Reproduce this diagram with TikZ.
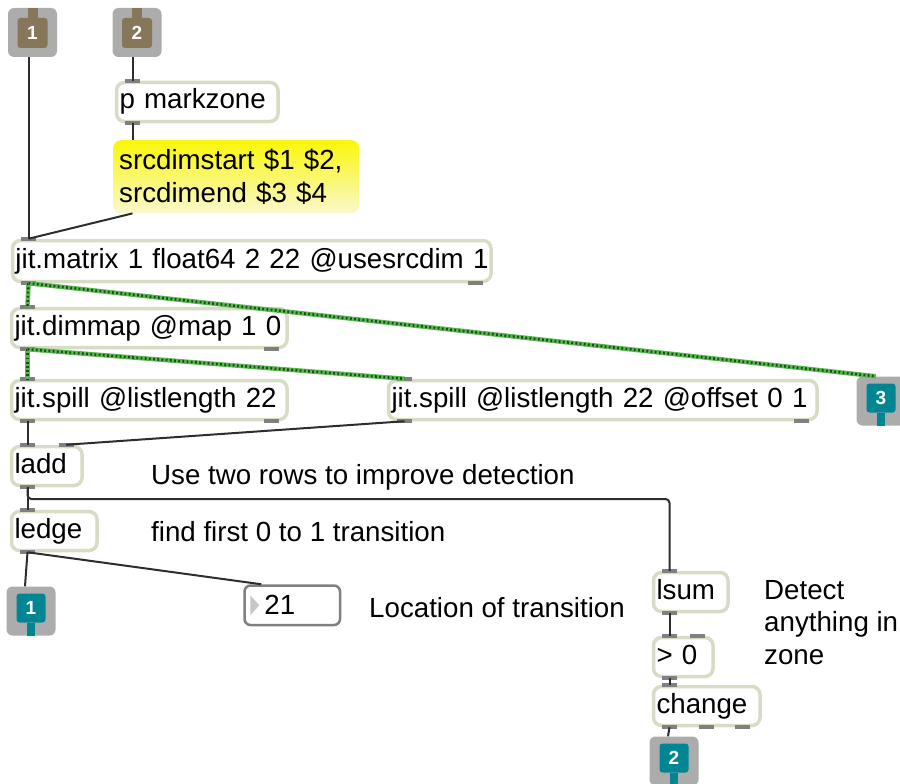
\documentclass[tikz,border=0pt]{standalone}
\usepackage{fontspec}
\setmainfont{Liberation Sans}
\usepackage{xcolor}

\definecolor{sage}{RGB}{214,221,196}
\definecolor{tabgray}{RGB}{128,128,128}
\definecolor{cordgray}{RGB}{45,45,45}
\definecolor{iogray}{RGB}{172,172,172}
\definecolor{inbrown}{RGB}{134,118,90}
\definecolor{outteal}{RGB}{0,134,146}
\definecolor{mtxdark}{RGB}{30,75,30}
\definecolor{mtxlight}{RGB}{90,185,80}
\definecolor{msgyellow}{RGB}{250,246,10}
\definecolor{msgpale}{RGB}{250,248,205}

\newcommand\patchfont{\fontsize{27.7}{32.5}\selectfont}
\newcommand\portfont{\fontsize{19}{19}\selectfont\bfseries}

\begin{document}
\begin{tikzpicture}[x=1pt,y=1pt,
  obj/.style={draw=sage, line width=3.5pt, rounded corners=8pt, fill=white,
    anchor=north west, inner xsep=3pt, inner ysep=0pt, minimum height=39pt,
    text height=20pt, text depth=6pt, font=\patchfont, align=left},
  msgbox/.style={rounded corners=8pt, top color=msgyellow, bottom color=msgpale,
    anchor=north west, inner xsep=6pt, minimum height=73pt, text width=234pt,
    font=\patchfont, align=left},
  numbox/.style={draw=tabgray, line width=2.5pt, rounded corners=6pt, fill=white,
    anchor=north west, minimum width=95.5pt, minimum height=39.5pt, inner sep=0pt},
  iobox/.style={fill=iogray, rounded corners=6pt, minimum size=49pt, inner sep=0pt},
  incore/.style={fill=inbrown, rounded corners=3pt, minimum size=30pt, inner sep=0pt,
    text=white, font=\portfont},
  outcore/.style={fill=outteal, rounded corners=3pt, minimum size=29pt, inner sep=0pt,
    text=white, font=\portfont},
  comment/.style={anchor=west, inner sep=0pt, font=\patchfont, align=left},
  tab/.style={fill=tabgray},
  cord/.style={draw=cordgray, line width=2pt},
  matcord/.style={draw=mtxlight, line width=4.5pt,
    postaction={draw=mtxdark, line width=2.6pt, dash pattern=on 1.8pt off 2.4pt}}]
\useasboundingbox (0,0) rectangle (900,-784);
\clip (0,0) rectangle (900,-784);

% inlets
\node[iobox] (in1) at (32.5,-32.5) {};
\node[incore] (in1core) at ([yshift=-0.5pt]in1) {1};
\fill[inbrown] ([xshift=-5pt]in1.north) rectangle ([xshift=5pt]in1core.north);
\node[iobox] (in2) at (137,-32.5) {};
\node[incore] (in2core) at ([yshift=-0.5pt]in2) {2};
\fill[inbrown] ([xshift=-5pt]in2.north) rectangle ([xshift=5pt]in2core.north);

% outlets
\node[iobox] (out1) at (31,-611) {};
\node[outcore] (out1core) at ([yshift=3pt]out1) {1};
\fill[outteal] ([xshift=-4pt]out1core.south) rectangle ([xshift=4pt]out1.south);
\node[iobox] (out2) at (674,-761) {};
\node[outcore] (out2core) at ([yshift=3pt]out2) {2};
\fill[outteal] ([xshift=-4pt]out2core.south) rectangle ([xshift=4pt]out2.south);
\node[iobox] (out3) at (881,-401) {};
\node[outcore] (out3core) at ([yshift=3pt]out3) {3};
\fill[outteal] ([xshift=-4pt]out3core.south) rectangle ([xshift=4pt]out3.south);

% objects
\node[obj, text width=155.5pt] (mark) at (114.75,-80.75) {p markzone};
\node[msgbox] (msg) at (113,-140) {srcdimstart \$1 \$2,\\srcdimend \$3 \$4};
\node[obj, text width=472.5pt, minimum height=41pt] (mtx) at (10.75,-238.75)
  {\mbox{jit.matrix 1 float64 2 22 @usesrcdim 1}};
\node[obj, text width=269.5pt] (dimmap) at (9.75,-306.75) {jit.dimmap @map 1 0};
\node[obj, text width=269.5pt] (spillA) at (9.75,-378.75) {jit.spill @listlength 22};
\node[obj, text width=422.5pt] (spillB) at (386.75,-378.75)
  {\mbox{jit.spill @listlength 22 @offset 0 1}};
\node[obj, text width=64.5pt] (ladd) at (9.75,-444.75) {ladd};
\node[obj, text width=79.5pt] (ledge) at (9.75,-509.75) {ledge};
\node[obj, text width=68.5pt] (lsum) at (651.75,-570.75) {lsum};
\node[obj, text width=53.5pt] (gtz) at (651.75,-635.75) {> 0};
\node[obj, text width=100.5pt] (change) at (651.75,-684.75) {change};

% number box
\node[numbox] (num) at (243.25,-584.25) {};
\fill[gray!45] ([xshift=7pt]num.west) ++(0,10) -- ++(9,-10) -- ++(-9,-10) -- cycle;
\node[comment] (numval) at ([xshift=21pt]num.west) {21};

% ports
\foreach \n in {mark,mtx,dimmap,spillA,spillB,ladd,ledge,lsum,gtz,change} {
  \coordinate (\n-in) at ([xshift=17.75pt]\n.north west);
  \coordinate (\n-out) at ([xshift=17.75pt]\n.south west);
  \fill[tab] ([xshift=-7.5pt,yshift=-2pt]\n-in) rectangle ++(15,4);
  \fill[tab] ([xshift=-7.5pt,yshift=-2pt]\n-out) rectangle ++(15,4);
}
\foreach \n in {mtx,dimmap,spillA,spillB} {
  \coordinate (\n-outR) at ([xshift=-17.75pt]\n.south east);
  \fill[tab] ([xshift=-7.5pt,yshift=-2pt]\n-outR) rectangle ++(15,4);
}
\foreach \n in {ladd,gtz} {
  \coordinate (\n-inR) at ([xshift=-17.75pt]\n.north east);
  \fill[tab] ([xshift=-7.5pt,yshift=-2pt]\n-inR) rectangle ++(15,4);
}
\coordinate (change-outM) at (change.south);
\fill[tab] ([xshift=-7.5pt,yshift=-2pt]change-outM) rectangle ++(15,4);
\coordinate (change-outR) at ([xshift=-19.75pt]change.south east);
\fill[tab] ([xshift=-7.5pt,yshift=-2pt]change-outR) rectangle ++(15,4);

% patch cords
\draw[cord] (in1.south -| mtx-in) -- (mtx-in);
\draw[cord] (in2.south -| mark-in) -- (mark-in);
\draw[cord] (mark-out) -- (mark-out |- msg.north);
\draw[cord] (msg.south -| mark-out) -- (mtx-in);
\draw[matcord] (mtx-out) -- (dimmap-in);
\draw[matcord] (mtx-out) -- ([xshift=-5pt]out3.north);
\draw[matcord] (dimmap-out) -- (spillA-in);
\draw[matcord] (dimmap-out) -- (spillB-in);
\draw[cord] (spillA-out) -- (ladd-in);
\draw[cord] (spillB-out) -- (ladd-inR);
\draw[cord] (ladd-out) -- (ledge-in);
\draw[cord, rounded corners=4pt] (ladd-out) -- ++(0,-11.75) -| (lsum-in);
\draw[cord] (ledge-out) -- ([xshift=-6pt]out1.north);
\draw[cord] (ledge-out) -- ([xshift=18pt]num.north west);
\draw[cord] (lsum-out) -- (gtz-in);
\draw[cord] (gtz-out) -- (change-in);
\draw[cord] (change-out) -- ([xshift=-6pt]out2.north);

% comments
\node[comment] (rowsnote) at (151,-477) {Use two rows to improve detection};
\node[comment] (edgenote) at (151,-532) {find first 0 to 1 transition};
\node[comment] (locnote) at (369,-608) {Location of transition};
\node[comment] (zonenote) at (764,-622.5) {Detect\\anything in\\zone};
\end{tikzpicture}
\end{document}
